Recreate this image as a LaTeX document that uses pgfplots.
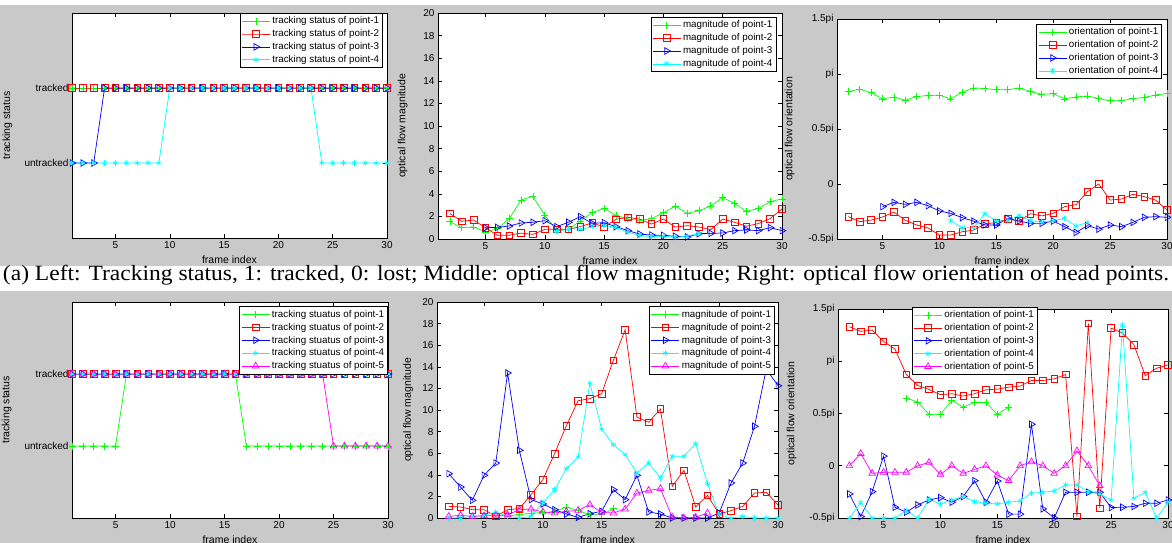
\documentclass[border=0pt]{standalone}
\usepackage{fontspec}
\setmainfont{Liberation Sans}
\newfontfamily\capfont{Liberation Serif}
\usepackage{pgfplots}
\pgfplotsset{compat=1.18}
\usepackage{graphicx}

\definecolor{bgray}{RGB}{201,201,201}
\definecolor{mg}{RGB}{0,255,0}
\definecolor{mr}{RGB}{255,0,0}
\definecolor{mb}{RGB}{0,0,255}
\definecolor{mc}{RGB}{0,255,255}
\definecolor{mm}{RGB}{255,0,255}

\pgfplotsset{
  mat/.style={
    scale only axis, anchor=south west, clip=false,
    xmin=1, xmax=30, xtick={5,10,...,30},
    tick align=inside, major tick length=4pt,
    tick style={black, line width=0.5pt},
    axis line style={line width=0.6pt},
    axis background/.style={fill=white},
    ticklabel style={font=\fontsize{10}{11}\selectfont},
    label style={font=\fontsize{10.5}{11}\selectfont},
    xlabel={frame index},
    /pgf/number format/assume math mode=true,
    legend cell align=left,
    legend style={font=\fontsize{9.8}{10.5}\selectfont, draw=black, line width=0.6pt,
      fill=white, inner sep=1.5pt, row sep=0.3pt},
    legend image code/.code={\draw[mark repeat=2,mark phase=2,#1]
      plot coordinates {(0pt,0pt) (14pt,0pt) (28pt,0pt)};},
  },
  p1/.style={color=mg, line width=0.7pt, mark=+, mark size=3.5pt, mark options={solid}},
  p2/.style={color=mr, line width=0.7pt, mark=square, mark size=3.3pt, mark options={solid}},
  p3/.style={color=mb, line width=0.7pt, mark=triangle, mark size=3.8pt, mark options={solid,rotate=-90}},
  p4/.style={color=mc, line width=0.7pt, mark=asterisk, mark size=2.8pt, mark options={solid}},
  p5/.style={color=mm, line width=0.7pt, mark=triangle, mark size=3.8pt, mark options={solid}},
  trk/.style={ymin=-1, ymax=2, ytick={0,1}, yticklabels={untracked,tracked}, ylabel={tracking status}},
  mag/.style={ymin=0, ymax=20, ytick={0,2,...,20}, ylabel={optical flow magnitude}},
  ori/.style={ymin=-0.5, ymax=1.5, ytick={-0.5,0,0.5,1,1.5},
    yticklabels={-0.5pi,0,0.5pi,pi,1.5pi}, ylabel={optical flow orientation}},
}

\begin{document}
\begin{tikzpicture}
\path[use as bounding box] (0pt,0pt) rectangle (1172pt,543pt);
\fill[white] (0pt,0pt) rectangle (1172pt,543pt);
\fill[bgray] (0pt,277pt) rectangle (1172pt,538pt);
\fill[bgray] (0pt,0pt) rectangle (1172pt,252pt);

% caption
\node[anchor=base, inner sep=0pt] at (586pt,262pt)
  {\resizebox{1166pt}{15.3pt}{\capfont (a) Left: Tracking status, 1: tracked, 0: lost; Middle: optical flow magnitude; Right: optical flow orientation of head points.}};

% top left
\begin{axis}[mat, trk, at={(72pt,305pt)}, width=315pt, height=225pt,
  ylabel style={at={(axis description cs:-0.178,0.5)}},
  legend style={at={(axis description cs:0.987,1)}, anchor=north east}]
\addplot[p1] coordinates {(1,1)(2,1)(3,1)(4,1)(5,1)(6,1)(7,1)(8,1)(9,1)(10,1)(11,1)(12,1)(13,1)(14,1)(15,1)(16,1)(17,1)(18,1)(19,1)(20,1)(21,1)(22,1)(23,1)(24,1)(25,1)(26,1)(27,1)(28,1)(29,1)(30,1)};
\addplot[p2] coordinates {(1,1)(2,1)(3,1)(4,1)(5,1)(6,1)(7,1)(8,1)(9,1)(10,1)(11,1)(12,1)(13,1)(14,1)(15,1)(16,1)(17,1)(18,1)(19,1)(20,1)(21,1)(22,1)(23,1)(24,1)(25,1)(26,1)(27,1)(28,1)(29,1)(30,1)};
\addplot[p3] coordinates {(1,0)(2,0)(3,0)(4,1)(5,1)(6,1)(7,1)(8,1)(9,1)(10,1)(11,1)(12,1)(13,1)(14,1)(15,1)(16,1)(17,1)(18,1)(19,1)(20,1)(21,1)(22,1)(23,1)(24,1)(25,1)(26,1)(27,1)(28,1)(29,1)(30,1)};
\addplot[p4] coordinates {(1,0)(2,0)(3,0)(4,0)(5,0)(6,0)(7,0)(8,0)(9,0)(10,1)(11,1)(12,1)(13,1)(14,1)(15,1)(16,1)(17,1)(18,1)(19,1)(20,1)(21,1)(22,1)(23,1)(24,0)(25,0)(26,0)(27,0)(28,0)(29,0)(30,0)};
\legend{tracking status of point-1,tracking status of point-2,tracking status of point-3,tracking status of point-4}
\end{axis}

% top middle
\begin{axis}[mat, mag, at={(438pt,304pt)}, width=344pt, height=226pt,
  ylabel style={at={(axis description cs:-0.078,0.5)}},
  legend style={at={(axis description cs:0.983,0.982)}, anchor=north east}]
\addplot[p1] coordinates {(2,1.53)(3,1.0)(4,1.07)(5,0.63)(6,0.9)(7,1.8)(8,3.45)(9,3.78)(10,2.1)(11,0.75)(12,0.85)(13,1.6)(14,2.33)(15,2.71)(16,2.1)(17,1.77)(18,1.65)(19,1.8)(20,2.33)(21,2.9)(22,2.27)(23,2.5)(24,2.93)(25,3.67)(26,3.15)(27,2.45)(28,2.69)(29,3.3)(30,3.55)};
\addplot[p2] coordinates {(2,2.26)(3,1.57)(4,1.68)(5,1.0)(6,0.33)(7,0.33)(8,0.52)(9,0.41)(10,0.85)(11,0.87)(12,0.85)(13,1.1)(14,1.43)(15,1.05)(16,1.74)(17,1.92)(18,1.76)(19,1.32)(20,1.77)(21,1.05)(22,1.18)(23,1.06)(24,0.83)(25,1.76)(26,1.48)(27,1.13)(28,1.36)(29,1.8)(30,2.66)};
\addplot[p3] coordinates {(5,1.0)(6,1.03)(7,1.15)(8,1.42)(9,1.48)(10,1.62)(11,1.09)(12,1.48)(13,1.98)(14,1.39)(15,1.45)(16,1.09)(17,0.74)(18,0.44)(19,0.35)(20,0.32)(21,0.24)(22,0.18)(23,0.47)(24,0.5)(25,0.53)(26,0.74)(27,0.8)(28,0.74)(29,1.0)(30,0.74)};
\addplot[p4] coordinates {(11,0.65)(12,0.9)(13,0.86)(14,1.09)(15,1.2)(16,1.03)(17,0.6)(18,0.32)(19,0.2)(20,0.27)(21,0.15)(22,0.24)(23,0.5)};
\legend{magnitude of point-1,magnitude of point-2,magnitude of point-3,magnitude of point-4}
\end{axis}

% top right
\begin{axis}[mat, ori, at={(837pt,304pt)}, width=330pt, height=220pt,
  ylabel style={at={(axis description cs:-0.118,0.5)}},
  legend style={at={(axis description cs:0.985,0.977)}, anchor=north east}]
\addplot[p1] coordinates {(2,0.84)(3,0.862)(4,0.83)(5,0.774)(6,0.79)(7,0.762)(8,0.795)(9,0.804)(10,0.807)(11,0.774)(12,0.835)(13,0.874)(14,0.868)(15,0.856)(16,0.856)(17,0.874)(18,0.84)(19,0.816)(20,0.82)(21,0.774)(22,0.792)(23,0.8)(24,0.777)(25,0.756)(26,0.756)(27,0.777)(28,0.786)(29,0.81)(30,0.822)};
\addplot[p2] coordinates {(2,-0.297)(3,-0.343)(4,-0.328)(5,-0.3)(6,-0.255)(7,-0.33)(8,-0.373)(9,-0.4)(10,-0.464)(11,-0.464)(12,-0.434)(13,-0.419)(14,-0.364)(15,-0.349)(16,-0.319)(17,-0.337)(18,-0.27)(19,-0.29)(20,-0.267)(21,-0.206)(22,-0.188)(23,-0.07)(24,0.0)(25,-0.146)(26,-0.137)(27,-0.094)(28,-0.115)(29,-0.146)(30,-0.237)};
\addplot[p3] coordinates {(5,-0.206)(6,-0.167)(7,-0.185)(8,-0.167)(9,-0.197)(10,-0.246)(11,-0.267)(12,-0.306)(13,-0.337)(14,-0.373)(15,-0.373)(16,-0.313)(17,-0.337)(18,-0.358)(19,-0.358)(20,-0.337)(21,-0.388)(22,-0.44)(23,-0.379)(24,-0.41)(25,-0.373)(26,-0.388)(27,-0.349)(28,-0.303)(29,-0.297)(30,-0.303)};
\addplot[p4] coordinates {(11,-0.334)(12,-0.398)(13,-0.398)(14,-0.27)(15,-0.337)(16,-0.334)(17,-0.288)(18,-0.334)(19,-0.343)(20,-0.334)(21,-0.313)(22,-0.382)(23,-0.349)};
\legend{orientation of point-1,orientation of point-2,orientation of point-3,orientation of point-4}
\end{axis}

% bottom left
\begin{axis}[mat, trk, at={(72pt,25pt)}, width=316pt, height=216pt,
  ylabel style={at={(axis description cs:-0.18,0.5)}},
  legend style={at={(axis description cs:1,0.98)}, anchor=north east}]
\addplot[p1] coordinates {(1,0)(2,0)(3,0)(4,0)(5,0)(6,1)(7,1)(8,1)(9,1)(10,1)(11,1)(12,1)(13,1)(14,1)(15,1)(16,1)(17,0)(18,0)(19,0)(20,0)(21,0)(22,0)(23,0)(24,0)(25,0)(26,0)(27,0)(28,0)(29,0)(30,0)};
\addplot[p2] coordinates {(1,1)(2,1)(3,1)(4,1)(5,1)(6,1)(7,1)(8,1)(9,1)(10,1)(11,1)(12,1)(13,1)(14,1)(15,1)(16,1)(17,1)(18,1)(19,1)(20,1)(21,1)(22,1)(23,1)(24,1)(25,1)(26,1)(27,1)(28,1)(29,1)(30,1)};
\addplot[p3] coordinates {(1,1)(2,1)(3,1)(4,1)(5,1)(6,1)(7,1)(8,1)(9,1)(10,1)(11,1)(12,1)(13,1)(14,1)(15,1)(16,1)(17,1)(18,1)(19,1)(20,1)(21,1)(22,1)(23,1)(24,1)(25,1)(26,1)(27,1)(28,1)(29,1)(30,1)};
\addplot[p4] coordinates {(1,1)(2,1)(3,1)(4,1)(5,1)(6,1)(7,1)(8,1)(9,1)(10,1)(11,1)(12,1)(13,1)(14,1)(15,1)(16,1)(17,1)(18,1)(19,1)(20,1)(21,1)(22,1)(23,1)(24,1)(25,1)(26,1)(27,1)(28,1)(29,1)(30,1)};
\addplot[p5] coordinates {(1,1)(2,1)(3,1)(4,1)(5,1)(6,1)(7,1)(8,1)(9,1)(10,1)(11,1)(12,1)(13,1)(14,1)(15,1)(16,1)(17,1)(18,1)(19,1)(20,1)(21,1)(22,1)(23,1)(24,1)(25,0)(26,0)(27,0)(28,0)(29,0)(30,0)};
\legend{tracking stuatus of point-1,tracking stuatus of point-2,tracking stuatus of point-3,tracking stuatus of point-4,tracking stuatus of point-5}
\end{axis}

% bottom middle
\begin{axis}[mat, mag, at={(437pt,25pt)}, width=341pt, height=216pt,
  ylabel style={at={(axis description cs:-0.06,0.5)}},
  legend style={at={(axis description cs:0.991,0.98)}, anchor=north east}]
\addplot[p1] coordinates {(7,0.2)(8,0.3)(9,0.45)(10,0.5)(11,0.6)(12,1.0)(13,0.7)(14,0.3)(15,0.3)(16,0.85)};
\addplot[p2] coordinates {(2,1.08)(3,1.02)(4,0.77)(5,0.77)(6,0.15)(7,0.77)(8,0.86)(9,2.16)(10,3.55)(11,5.96)(12,8.55)(13,10.86)(14,11.05)(15,11.51)(16,14.6)(17,17.44)(18,9.35)(19,8.86)(20,10.09)(21,2.93)(22,4.41)(23,1.02)(24,2.1)(25,0.37)(26,0.68)(27,1.08)(28,2.31)(29,2.38)(30,1.2)};
\addplot[p3] coordinates {(2,4.1)(3,2.87)(4,1.64)(5,3.95)(6,5.09)(7,13.43)(8,6.27)(9,1.7)(10,1.3)(11,0.77)(12,0.37)(13,0.06)(14,0.4)(15,0.62)(16,2.62)(17,1.7)(18,3.95)(19,0.56)(20,0.37)(21,0)(22,0)(23,0)(24,0)(25,0.46)(26,3.24)(27,5.09)(28,8.49)(29,13.8)(30,12.25)};
\addplot[p4] coordinates {(2,0)(3,0)(4,0.15)(5,0.25)(6,0.56)(7,0.15)(8,0)(9,0.15)(10,1.39)(11,2.62)(12,4.57)(13,5.65)(14,12.5)(15,8.24)(16,6.79)(17,5.86)(18,4.17)(19,5.09)(20,3.7)(21,5.71)(22,5.71)(23,6.88)(24,3.18)(25,0.31)(26,0)(27,0.15)(28,0)(29,0)(30,0)};
\addplot[p5] coordinates {(2,0.15)(3,0.25)(4,0.15)(5,0.2)(6,0.2)(7,0.3)(8,0.77)(9,0.83)(10,0.56)(11,0.46)(12,0.62)(13,0.71)(14,1.23)(15,0.52)(16,0.46)(17,0.83)(18,2.31)(19,2.56)(20,2.72)(21,0.09)(22,0)(23,0.06)(24,0.46)};
\legend{magnitude of point-1,magnitude of point-2,magnitude of point-3,magnitude of point-4,magnitude of point-5}
\end{axis}

% bottom right
\begin{axis}[mat, ori, at={(838pt,25pt)}, width=330pt, height=209pt,
  ylabel style={at={(axis description cs:-0.115,0.5)}},
  legend style={at={(axis description cs:0.224,1.01)}, anchor=north west}]
\addplot[p1] coordinates {(7,0.648)(8,0.61)(9,0.492)(10,0.492)(11,0.625)(12,0.562)(13,0.606)(14,0.606)(15,0.492)(16,0.562)};
\addplot[p2] coordinates {(2,1.33)(3,1.286)(4,1.298)(5,1.19)(6,1.117)(7,0.873)(8,0.768)(9,0.73)(10,0.68)(11,0.689)(12,0.667)(13,0.689)(14,0.727)(15,0.733)(16,0.752)(17,0.762)(18,0.816)(19,0.816)(20,0.832)(21,0.873)(22,-0.486)(23,1.362)(24,-0.406)(25,1.317)(26,1.27)(27,1.159)(28,0.863)(29,0.933)(30,0.965)};
\addplot[p3] coordinates {(2,-0.27)(3,-0.486)(4,-0.248)(5,0.092)(6,-0.397)(7,-0.444)(8,-0.375)(9,-0.327)(10,-0.305)(11,-0.349)(12,-0.295)(13,-0.143)(14,-0.349)(15,-0.146)(16,-0.463)(17,-0.463)(18,0.397)(19,-0.413)(20,-0.5)(21,-0.254)(22,-0.254)(23,-0.254)(24,-0.254)(25,-0.4)(26,-0.397)(27,-0.39)(28,-0.359)(29,-0.359)(30,-0.327)};
\addplot[p4] coordinates {(2,-0.5)(3,-0.352)(4,-0.5)(5,-0.5)(6,-0.5)(7,-0.43)(8,-0.5)(9,-0.32)(10,-0.368)(11,-0.327)(12,-0.295)(13,-0.343)(14,-0.359)(15,-0.365)(16,-0.349)(17,-0.337)(18,-0.263)(19,-0.254)(20,-0.241)(21,-0.184)(22,-0.184)(23,-0.248)(24,-0.27)(25,-0.327)(26,1.346)(27,-0.311)(28,-0.254)(29,-0.5)(30,-0.349)};
\addplot[p5] coordinates {(2,0)(3,0.117)(4,-0.073)(5,-0.063)(6,-0.063)(7,-0.063)(8,0)(9,0.032)(10,-0.083)(11,0)(12,-0.073)(13,-0.035)(14,0)(15,-0.089)(16,-0.143)(17,0)(18,0.038)(19,0)(20,-0.073)(21,0)(22,0.143)(23,0)(24,-0.19)};
\legend{orientation of point-1,orientation of point-2,orientation of point-3,orientation of point-4,orientation of point-5}
\end{axis}
\end{tikzpicture}
\end{document}
